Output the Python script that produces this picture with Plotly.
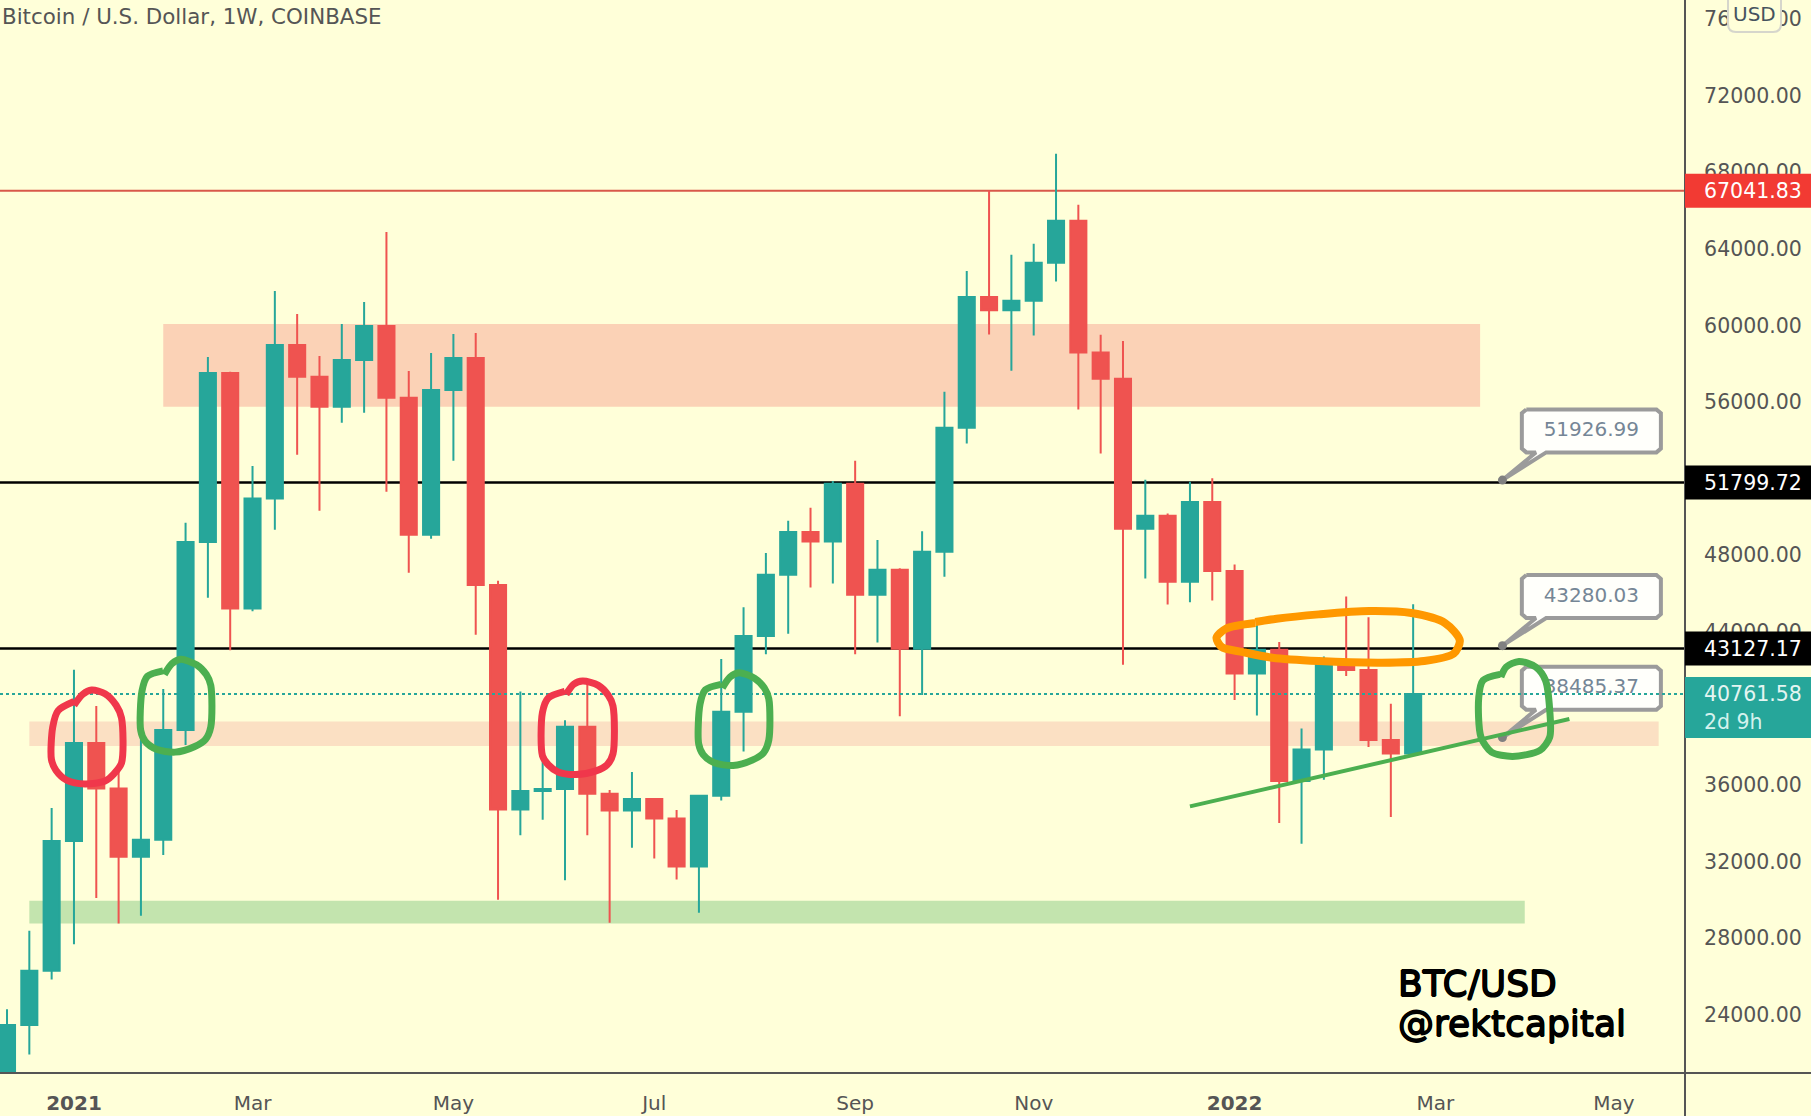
import pandas as pd
import plotly.graph_objects as go

# Weekly candles
START = pd.Timestamp('2020-12-14')
OPEN = [19420, 23466, 26298, 33084, 38192, 35817, 32254, 33140, 38871, 48690, 57517, 45223, 50971, 58980, 57326, 55759,
        58196, 59972, 56229, 49073, 56629, 58300, 46445, 34724, 35685, 35798, 39040, 35553, 34668, 35270, 34253, 31745,
        35440, 39828, 43785, 46983, 49221, 48721, 51739, 45943, 47242, 43125, 48182, 54657, 61492, 60792, 61292, 63270,
        65469, 58594, 57215, 49381, 50060, 46623, 50780, 47183, 41827, 43065, 36210, 37863, 42407, 42007, 38351, 37654]
HIGH = [24300, 28390, 34799, 42019, 40134, 36778, 38475, 41020, 49700, 58353, 57587, 52660, 61800, 60599, 58405, 60076,
        61226, 64882, 57622, 58562, 59554, 59606, 46675, 40888, 39511, 39380, 41397, 35742, 36684, 35300, 34705, 35500,
        42586, 45284, 48122, 49800, 50480, 51880, 52938, 48801, 47322, 49261, 56535, 62850, 67047, 63690, 64270, 68966,
        66308, 59513, 59193, 51939, 50180, 51839, 52019, 47522, 44385, 43470, 38960, 42720, 45854, 44758, 40248, 45437]
LOW = [19300, 21925, 25846, 27693, 30105, 28767, 29181, 32349, 38098, 45783, 43037, 45072, 49335, 53252, 50327, 54923,
       55445, 51320, 47088, 48864, 52938, 43847, 30012, 33385, 34196, 31029, 33385, 28805, 32726, 32160, 31067, 29333,
       35200, 37760, 42826, 43905, 46323, 46523, 42826, 43445, 39588, 40707, 46883, 53837, 59533, 57634, 59473, 62291,
       55616, 53318, 42286, 46783, 45424, 45544, 45644, 40448, 39628, 34016, 32936, 36279, 41694, 37985, 34329, 37600]
CLOSE = [23466, 26298, 33084, 38192, 35817, 32254, 33140, 38871, 48690, 57517, 45223, 50971, 58980, 57326, 55759, 58196,
         59972, 56229, 49073, 56629, 58300, 46445, 34724, 35685, 35798, 39040, 35553, 34668, 35270, 34253, 31745, 35440,
         39828, 43785, 46983, 49221, 48721, 51739, 45943, 47242, 43125, 48182, 54657, 61492, 60792, 61292, 63270, 65469,
         58594, 57215, 49381, 50060, 46623, 50780, 47183, 41827, 43065, 36210, 37863, 42407, 42007, 38351, 37654, 40761.58]

Y_TICKS = [24000, 28000, 32000, 36000, 40000, 44000, 48000, 52000, 56000, 60000, 64000, 68000, 72000, 76000]
X_TICKS = ['2021-01-04', '2021-03-01', '2021-05-03', '2021-07-05', '2021-09-06', '2021-11-01', '2022-01-03', '2022-03-07', '2022-05-02']
X_LABELS = ['<b>2021</b>', 'Mar', 'May', 'Jul', 'Sep', 'Nov', '<b>2022</b>', 'Mar', 'May']

ATH_LEVEL = 67041.83
LEVELS = [51799.72, 43127.17]
LAST_PRICE = 40761.58
COUNTDOWN = '2d 9h'
CALLOUTS = [51926.99, 43280.03, 38485.37]

# zones: first week, last week, low, high, colour
ZONES = [(7, 66, 55758, 60078, '#FBD2B6'),
         (1, 74, 38041, 39323, '#FBE0C3'),
         (1, 68, 28767, 29955, '#C3E4AE')]

# hand drawn marks, week number and price
RED_1_W = [3.0, 3.39, 3.79, 4.39, 4.89, 5.13, 5.13, 4.79, 4.39, 3.49, 2.69, 2.19, 1.99, 2.05, 2.29, 3.0]
RED_1_P = [40170, 40737, 40963, 40775, 40170, 39512, 37155, 36590, 36213, 36062, 36250, 36778, 37344, 39040, 39889, 40360]
RED_2_W = [25.05, 25.39, 25.79, 26.49, 26.93, 27.15, 27.15, 26.89, 26.39, 25.49, 24.69, 24.25, 23.99, 23.99, 24.25, 24.99]
RED_2_P = [40737, 41265, 41434, 41208, 40699, 40134, 37627, 37061, 36741, 36552, 36684, 37061, 37532, 39794, 40548, 40888]
GREEN_1_W = [7.05, 7.39, 7.79, 8.49, 8.93, 9.13, 9.13, 8.89, 8.39, 7.53, 6.69, 6.19, 5.99, 6.05, 6.29, 6.99]
GREEN_1_P = [41774, 42339, 42565, 42283, 41774, 41208, 39040, 38381, 38004, 37721, 37872, 38287, 38852, 40925, 41680, 41962]
GREEN_2_W = [32.05, 32.39, 32.79, 33.49, 33.93, 34.13, 34.13, 33.89, 33.39, 32.53, 31.69, 31.19, 30.99, 31.05, 31.29, 31.99]
GREEN_2_P = [41074, 41639, 41865, 41583, 41074, 40508, 38340, 37681, 37304, 37021, 37172, 37587, 38152, 40225, 40980, 41262]
GREEN_3_W = [66.93, 67.17, 67.74, 68.49, 68.93, 69.12, 69.12, 68.68, 67.45, 66.51, 66.04, 65.94, 66.13, 66.89]
GREEN_3_P = [41641, 42164, 42459, 42164, 41467, 39900, 38507, 37811, 37498, 37724, 38507, 40597, 41467, 41780]
ORANGE_W = [55.93, 56.88, 58.77, 61.03, 62.92, 64.43, 65.09, 64.81, 63.49, 61.6, 58.77, 56.69, 55.37, 54.42, 54.19, 54.61, 55.93]
ORANGE_P = [44514, 44688, 44914, 45088, 44984, 44462, 43556, 42860, 42477, 42390, 42477, 42651, 42947, 43208, 43696, 44166, 44462]
TREND_W = [53, 70]
TREND_P = [34886, 39448]

BG = '#FFFFD9'
UP = '#26A69A'
DOWN = '#EF5350'
FONT = 'DejaVu Sans'
W, H = 1811, 1116
RIGHT = 126
BOTTOM = 43
PLOT_W = W - RIGHT
PLOT_H = H - BOTTOM
HEAVY = '0.7px 0 0 #000,-0.7px 0 0 #000,0 0.7px 0 #000,0 -0.7px 0 #000'


def week(w):
    return START + pd.Timedelta(days=7 * w)


X_MIN, X_MAX = week(-0.314), week(75.18)
Y_MIN, Y_MAX = 20965, 76997
dates = [week(i) for i in range(len(OPEN))]

fig = go.Figure()


# callout box around a price, drawn before the circles so they can go over it
def add_callout(price):
    left, right = 1 + 66.87, 67 + 7.1
    bot, top = price + 1446, price + 3690
    c_w, c_p = 0.2, 200
    xs = [left + c_w, right - c_w, right, right, right - c_w, 68.96, 67, 68.5, left + c_w, left, left, left + c_w]
    ys = [top, top, top - c_p, bot + c_p, bot, bot, price, bot, bot, bot + c_p, top - c_p, top]
    fig.add_trace(go.Scatter(x=[week(v) for v in xs], y=ys, mode='lines', fill='toself', fillcolor='#FFFFFB',
                             line=dict(color='#9B9B9B', width=4), hoverinfo='skip', showlegend=False))
    fig.add_trace(go.Scatter(x=[week(67)], y=[price], mode='markers', marker=dict(color='#808080', size=9),
                             hoverinfo='skip', showlegend=False))
    fig.add_trace(go.Scatter(x=[week((left + right) / 2)], y=[(bot + top) / 2], mode='text', text=[f'{price:.2f}'],
                             textfont=dict(family=FONT, size=20, color='#758696'), textposition='middle center',
                             hoverinfo='skip', showlegend=False))


for p in CALLOUTS:
    add_callout(p)

fig.add_trace(go.Scatter(x=[X_MIN, X_MAX], y=[LAST_PRICE, LAST_PRICE], mode='lines',
                         line=dict(color=UP, width=2, dash='dot'), hoverinfo='skip', showlegend=False))

for xs, ys, col, lw in [(RED_1_W, RED_1_P, '#F0374B', 7), (RED_2_W, RED_2_P, '#F0374B', 7),
                        (GREEN_1_W, GREEN_1_P, '#4CAF50', 7), (GREEN_2_W, GREEN_2_P, '#4CAF50', 7),
                        (GREEN_3_W, GREEN_3_P, '#4CAF50', 7), (ORANGE_W, ORANGE_P, '#FF9800', 8)]:
    fig.add_trace(go.Scatter(x=[week(v) for v in xs], y=ys, mode='lines', line=dict(color=col, width=lw, shape='spline', smoothing=0.8),
                             hoverinfo='skip', showlegend=False))
fig.add_trace(go.Scatter(x=[week(v) for v in TREND_W], y=TREND_P, mode='lines', line=dict(color='#4CAF50', width=4),
                         hoverinfo='skip', showlegend=False))

fig.add_trace(go.Candlestick(x=dates, open=OPEN, high=HIGH, low=LOW, close=CLOSE, whiskerwidth=0,
                             increasing=dict(line=dict(color=UP, width=2), fillcolor=UP),
                             decreasing=dict(line=dict(color=DOWN, width=2), fillcolor=DOWN),
                             showlegend=False))

# zones and levels go under everything
for w0, w1, lo, hi, col in ZONES:
    fig.add_shape(type='rect', x0=week(w0), x1=week(w1), y0=lo, y1=hi, fillcolor=col, line_width=0, layer='below')
for lv in LEVELS:
    fig.add_shape(type='line', x0=X_MIN, x1=X_MAX, y0=lv, y1=lv, line=dict(color='black', width=2.5), layer='below')
fig.add_shape(type='line', x0=X_MIN, x1=X_MAX, y0=ATH_LEVEL, y1=ATH_LEVEL, line=dict(color='#D8584A', width=2), layer='below')

# frame lines
fig.add_shape(type='line', xref='paper', yref='paper', x0=0, x1=W / PLOT_W, y0=0, y1=0, line=dict(color='#555555', width=2))
fig.add_shape(type='line', xref='paper', yref='paper', x0=1, x1=1, y0=-BOTTOM / PLOT_H, y1=1, line=dict(color='#555555', width=2))


# price tags on the axis
def add_tag(price, col, txt, txt_col='#FFFFFF', lo=-17, hi=17):
    fig.add_shape(type='rect', xref='paper', yref='y', x0=1, x1=W / PLOT_W, ysizemode='pixel', yanchor=price, y0=lo, y1=hi,
                  fillcolor=col, line_width=0)
    fig.add_annotation(xref='paper', yref='y', x=1, y=price, xanchor='left', yanchor='middle', xshift=17, text=txt,
                       showarrow=False, font=dict(family=FONT, size=20.5, color=txt_col))


add_tag(ATH_LEVEL, '#F23A33', f'{ATH_LEVEL:.2f}')
for lv in LEVELS:
    add_tag(lv, '#000000', f'{lv:.2f}')
add_tag(LAST_PRICE, UP, f'{LAST_PRICE:.2f}', '#E4F5F2', lo=-44, hi=17)
fig.add_annotation(xref='paper', yref='y', x=1, y=LAST_PRICE, xanchor='left', yanchor='middle', xshift=17, yshift=-28,
                   text=COUNTDOWN, showarrow=False, font=dict(family=FONT, size=20.5, color='#D4F2EE'))


# USD badge, rounded corners
def px(x, y):
    return f'{x / PLOT_W} {(PLOT_H - y) / PLOT_H}'


x0, x1, y1, r = 1728, 1781, 32, 8
badge = (f'M {px(x0, -3)} L {px(x0, y1 - r)} Q {px(x0, y1)} {px(x0 + r, y1)} L {px(x1 - r, y1)} '
         f'Q {px(x1, y1)} {px(x1, y1 - r)} L {px(x1, -3)} Z')
fig.add_shape(type='path', xref='paper', yref='paper', path=badge, fillcolor=BG, line=dict(color='#D6D6CC', width=2))
fig.add_annotation(xref='paper', yref='paper', x=(x0 + x1) / 2 / PLOT_W, y=(PLOT_H - 14) / PLOT_H, text='USD', showarrow=False,
                   xanchor='center', yanchor='middle', font=dict(family=FONT, size=20, color='#46535E'))

# chart title and watermark
fig.add_annotation(xref='paper', yref='paper', x=0, y=(PLOT_H - 17) / PLOT_H, xanchor='left', yanchor='middle', showarrow=False,
                   text='Bitcoin / U.S. Dollar, 1W, COINBASE', font=dict(family=FONT, size=21.4, color='#555555'))
fig.add_annotation(xref='paper', yref='paper', x=1396 / PLOT_W, y=(PLOT_H - 983) / PLOT_H, xanchor='left', yanchor='middle',
                   showarrow=False, text='BTC/USD', font=dict(family=FONT, size=36, color='#000000', shadow=HEAVY))
fig.add_annotation(xref='paper', yref='paper', x=1396 / PLOT_W, y=(PLOT_H - 1023) / PLOT_H, xanchor='left', yanchor='middle',
                   showarrow=False, text='@rektcapital', font=dict(family=FONT, size=36, color='#000000', shadow=HEAVY))

fig.update_layout(
    width=W, height=H,
    margin=dict(l=0, r=RIGHT, t=0, b=BOTTOM),
    paper_bgcolor=BG, plot_bgcolor=BG,
    boxgap=0.28, boxgroupgap=0,
    showlegend=False,
    xaxis=dict(type='date', range=[X_MIN, X_MAX], rangeslider=dict(visible=False), showgrid=False, zeroline=False, automargin=False,
               tickmode='array', tickvals=X_TICKS, ticktext=X_LABELS, ticks='outside', ticklen=12, tickcolor='rgba(0,0,0,0)',
               tickfont=dict(family=FONT, size=20, color='#555555')),
    yaxis=dict(side='right', range=[Y_MIN, Y_MAX], showgrid=False, zeroline=False, automargin=False, tickmode='array', tickvals=Y_TICKS,
               tickformat='.2f', ticks='outside', ticklen=14, tickcolor='rgba(0,0,0,0)',
               tickfont=dict(family=FONT, size=20.5, color='#555555')),
)

fig.write_html("out.html", config=dict(displayModeBar=False), post_script="document.body.style.margin='0';")
